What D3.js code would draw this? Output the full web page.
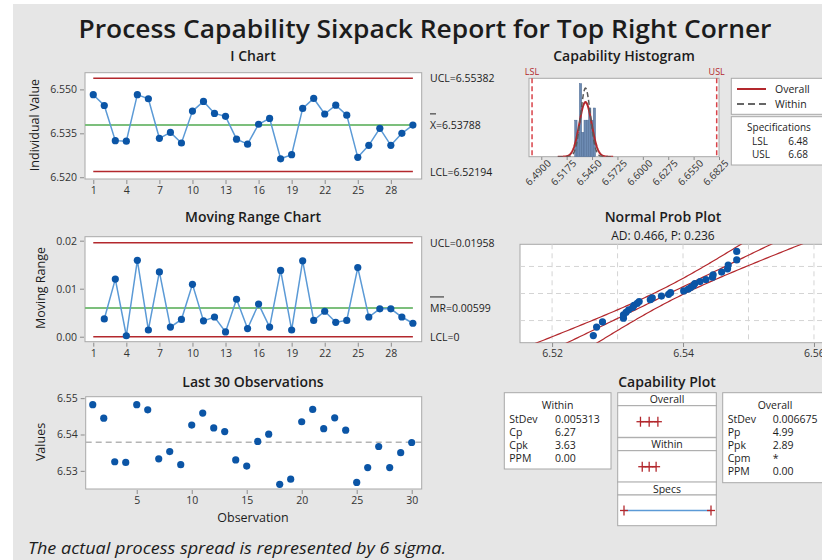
<!DOCTYPE html>
<html>
<head>
<meta charset="utf-8">
<script src="https://cdn.jsdelivr.net/npm/d3@7"></script>
<style>
body { margin: 0; background: #fff; }
text { font-family: "Open Sans", sans-serif; fill: #1c1c1c; }
.axis path.domain { display: none; }
.axis line { stroke: #8c8c8c; }
.axis text { font-size: 10.5px; fill: #333; }
</style>
</head>
<body>
<script>
var width = 822,
    height = 560;

// data
var values = [6.5482, 6.5445, 6.5325, 6.5323, 6.5482, 6.5468, 6.5333, 6.5353, 6.5317, 6.5426,
              6.5459, 6.5418, 6.5408, 6.5330, 6.5313, 6.5381, 6.5401, 6.5263, 6.5277, 6.5435,
              6.5469, 6.5416, 6.5446, 6.5412, 6.5268, 6.5309, 6.5367, 6.5309, 6.5350, 6.5378];
var iLimits = [6.55382, 6.53788, 6.52194];   // UCL, mean, LCL
var mrLimits = [0.01958, 0.00599, 0];
var iTicks = [6.520, 6.535, 6.550];
var mrTicks = [0, 0.01, 0.02];
var obsTicks = [1, 4, 7, 10, 13, 16, 19, 22, 25, 28];
var lastTicks = [5, 10, 15, 20, 25, 30];
var lastYTicks = [6.53, 6.54, 6.55];
var histStart = 6.52625, histWidth = 0.0025;
var histCounts = [3, 2, 6, 2, 3, 3, 4, 3, 4];
var histTicks = [6.4900, 6.5175, 6.5450, 6.5725, 6.6000, 6.6275, 6.6550, 6.6825];
var specs = [6.48, 6.68];
var sdWithin = 0.005313, sdOverall = 0.006675;
var probGrid = [0.1, 0.5, 0.9];
var npTicks = [6.52, 6.54, 6.56];
var npGrid = [6.52, 6.53, 6.54, 6.55, 6.56];
var withinStats = [["StDev", "0.005313"], ["Cp", "6.27"], ["Cpk", "3.63"], ["PPM", "0.00"]];
var overallStats = [["StDev", "0.006675"], ["Pp", "4.99"], ["Ppk", "2.89"], ["Cpm", "*"], ["PPM", "0.00"]];

var BLUE = "#0b55a6", LINEBLUE = "#5b9ad6", RED = "#b3282d", GREEN = "#7cbf7c";
var n = values.length;
var obs = d3.range(1, n + 1);
var mr = values.map(function(v, i) { return i == 0 ? null : Math.abs(v - values[i-1]); });

var svg = d3.select("body").append("svg")
    .attr("width", width)
    .attr("height", height);

svg.append("rect").attr("x", 13).attr("y", 4).attr("width", width - 13).attr("height", height - 4)
    .attr("fill", "#e6e6e6");

function txt(x, y, s, size, anchor, weight) {
    return svg.append("text").attr("x", x).attr("y", y).text(s)
        .style("font-size", size + "px")
        .attr("text-anchor", anchor || "start")
        .style("font-weight", weight || 400);
}

function frame(x, y, w, h) {
    svg.append("rect").attr("x", x).attr("y", y).attr("width", w).attr("height", h)
        .attr("fill", "#fff").attr("stroke", "#a8a8a8");
}

function clip(id, x, y, w, h) {
    svg.append("clipPath").attr("id", id).append("rect")
        .attr("x", x).attr("y", y).attr("width", w).attr("height", h);
    return "url(#" + id + ")";
}

// titles
txt(425, 38, "Process Capability Sixpack Report for Top Right Corner", 26, "middle", 600)
    .attr("textLength", 693).attr("lengthAdjust", "spacingAndGlyphs");
txt(253, 61, "I Chart", 14, "middle", 600);
txt(624, 61, "Capability Histogram", 14, "middle", 600);
txt(253, 222, "Moving Range Chart", 14, "middle", 600);
txt(663, 222, "Normal Prob Plot", 14, "middle", 600);
txt(663, 240, "AD: 0.466, P: 0.236", 12, "middle", 400);
txt(253, 387, "Last 30 Observations", 14, "middle", 600);
txt(667, 387, "Capability Plot", 14, "middle", 600);

function yTitle(x, y, s) {
    svg.append("text").attr("transform", "translate(" + x + "," + y + ") rotate(-90)")
        .attr("text-anchor", "middle").style("font-size", "12.5px").text(s);
}
yTitle(39, 125, "Individual Value");
yTitle(45, 288, "Moving Range");
yTitle(45, 442, "Values");
txt(253, 522, "Observation", 12.5, "middle", 400);

txt(28, 554, "The actual process spread is represented by 6 sigma.", 16.5, "start", 400)
    .style("font-style", "italic")
    .attr("textLength", 418).attr("lengthAdjust", "spacingAndGlyphs");

// ---------- control charts ----------
function controlChart(opt) {
    var x = d3.scaleLinear().domain([0.25, 30.8]).range([85, 421.7]);
    var y = d3.scaleLinear().domain(opt.yDomain).range([opt.bottom, opt.top]);
    frame(85, opt.top, 336.7, opt.bottom - opt.top);

    svg.append("g").attr("class", "axis").attr("transform", "translate(84,0)")
        .call(d3.axisLeft(y).tickValues(opt.yTicks).tickSize(4).tickFormat(d3.format(opt.fmt)));
    svg.append("g").attr("class", "axis").attr("transform", "translate(0," + (opt.bottom + 1) + ")")
        .call(d3.axisBottom(x).tickValues(obsTicks).tickSize(4));

    var lim = opt.limits;
    [lim[0], lim[2]].forEach(function(v) {
        svg.append("line").attr("x1", x(1)).attr("x2", x(30)).attr("y1", y(v)).attr("y2", y(v))
            .attr("stroke", RED).attr("stroke-width", 1.5);
    });
    svg.append("line").attr("x1", x(0.25)).attr("x2", x(30)).attr("y1", y(lim[1])).attr("y2", y(lim[1]))
        .attr("stroke", GREEN).attr("stroke-width", 2);

    var pts = opt.data.map(function(v, i) { return {i: i + 1, v: v}; })
        .filter(function(d) { return d.v !== null; });
    svg.append("path").datum(pts)
        .attr("d", d3.line().x(function(d) { return x(d.i); }).y(function(d) { return y(d.v); }))
        .attr("fill", "none").attr("stroke", LINEBLUE).attr("stroke-width", 1.5);
    svg.selectAll(null).data(pts).enter().append("circle")
        .attr("cx", function(d) { return x(d.i); })
        .attr("cy", function(d) { return y(d.v); })
        .attr("r", 3.6).attr("fill", BLUE);

    txt(430, y(lim[0]) + 4, "UCL=" + opt.labels[0], 10.5);
    txt(430, y(lim[1]) + 4, opt.labels[1], 10.5);
    svg.append("line").attr("x1", 430).attr("x2", opt.barW).attr("y1", y(lim[1]) - 11).attr("y2", y(lim[1]) - 11)
        .attr("stroke", "#222").attr("stroke-width", 1);
    txt(430, y(lim[2]) + 4, "LCL=" + opt.labels[2], 10.5);
}

controlChart({
    top: 72.7, bottom: 179, yDomain: [6.5194, 6.5557], yTicks: iTicks, fmt: ".3f",
    limits: iLimits, data: values, labels: ["6.55382", "X=6.53788", "6.52194"], barW: 436
});
controlChart({
    top: 236.7, bottom: 341.7, yDomain: [-0.00104, 0.02083], yTicks: mrTicks, fmt: ".2f",
    limits: mrLimits, data: mr, labels: ["0.01958", "MR=0.00599", "0"], barW: 444
});

// ---------- last 30 observations ----------
(function() {
    var x = d3.scaleLinear().domain([0.36, 30.91]).range([85.7, 421.7]);
    var y = d3.scaleLinear().domain([6.525, 6.5504]).range([489, 396.7]);
    frame(85.7, 396.7, 336, 92.3);
    svg.append("g").attr("class", "axis").attr("transform", "translate(84.7,0)")
        .call(d3.axisLeft(y).tickValues(lastYTicks).tickSize(4).tickFormat(d3.format(".2f")));
    svg.append("g").attr("class", "axis").attr("transform", "translate(0,490)")
        .call(d3.axisBottom(x).tickValues(lastTicks).tickSize(4));
    svg.append("line").attr("x1", 85.7).attr("x2", 421.7).attr("y1", y(iLimits[1])).attr("y2", y(iLimits[1]))
        .attr("stroke", "#b4b4b4").attr("stroke-width", 1.5).attr("stroke-dasharray", "6,4");
    svg.selectAll(null).data(values).enter().append("circle")
        .attr("cx", function(d, i) { return x(obs[i]); })
        .attr("cy", function(d) { return y(d); })
        .attr("r", 3.6).attr("fill", BLUE);
})();

// ---------- capability histogram ----------
function pdf(x, m, s) {
    return Math.exp(-0.5 * Math.pow((x - m) / s, 2)) / (s * Math.sqrt(2 * Math.PI));
}
(function() {
    var x = d3.scaleLinear().domain([6.4767, 6.6825]).range([529, 719]);
    var y = d3.scaleLinear().domain([0, 6.44]).range([156.7, 78.3]);
    frame(529, 78.3, 190, 78.4);
    var cp = clip("histclip", 529, 78.3, 190, 78.4);

    svg.append("g").selectAll("rect").data(histCounts).enter().append("rect")
        .attr("x", function(d, i) { return x(histStart + i * histWidth); })
        .attr("width", function(d, i) { return x(histStart + (i + 1) * histWidth) - x(histStart + i * histWidth); })
        .attr("y", function(d) { return y(d); })
        .attr("height", function(d) { return y(0) - y(d); })
        .attr("fill", "#6d8bb3").attr("stroke", "#4d6a92").attr("stroke-width", 0.5);

    var m = iLimits[1];
    var xs = d3.range(m - 0.03, m + 0.03, 0.0004);
    var line = function(s) {
        return d3.line().x(function(d) { return x(d); })
            .y(function(d) { return y(pdf(d, m, s) * n * histWidth); });
    };
    svg.append("path").datum(xs).attr("d", line(sdOverall)).attr("clip-path", cp)
        .attr("fill", "none").attr("stroke", RED).attr("stroke-width", 2);
    svg.append("path").datum(xs).attr("d", line(sdWithin)).attr("clip-path", cp)
        .attr("fill", "none").attr("stroke", "#5a5a5a").attr("stroke-width", 1.5).attr("stroke-dasharray", "5,3");

    specs.forEach(function(v, i) {
        svg.append("line").attr("x1", x(v)).attr("x2", x(v)).attr("y1", 78.3).attr("y2", 156.7)
            .attr("stroke", "#d9434a").attr("stroke-width", 1.5).attr("stroke-dasharray", "5,3");
        txt(x(v), 75, i == 0 ? "LSL" : "USL", 9, "middle").style("fill", RED);
    });

    var ax = svg.append("g").attr("class", "axis").attr("transform", "translate(0,157)")
        .call(d3.axisBottom(x).tickValues(histTicks).tickSize(3).tickFormat(d3.format(".4f")));
    ax.selectAll("text").attr("text-anchor", "end").attr("dx", "0.2em").attr("dy", "0.6em")
        .attr("transform", "rotate(-45)").style("font-size", "10px");
})();

// legend + specs
frame(731.3, 78.3, 100, 36);
svg.append("line").attr("x1", 737).attr("x2", 766).attr("y1", 89).attr("y2", 89)
    .attr("stroke", RED).attr("stroke-width", 2);
svg.append("line").attr("x1", 737).attr("x2", 766).attr("y1", 104).attr("y2", 104)
    .attr("stroke", "#666").attr("stroke-width", 1.8).attr("stroke-dasharray", "7,4");
txt(775, 93, "Overall", 10.5);
txt(775, 108, "Within", 10.5);
frame(731.3, 116.7, 100, 48.3);
txt(779, 131, "Specifications", 10, "middle");
txt(752, 145, "LSL", 10);
txt(808, 145, d3.format(".2f")(specs[0]), 10, "end");
txt(752, 158, "USL", 10);
txt(808, 158, d3.format(".2f")(specs[1]), 10, "end");

// ---------- normal probability plot ----------
function probit(p) {
    var a = [-39.69683028665376, 220.9460984245205, -275.9285104469687, 138.3577518672690, -30.66479806614716, 2.506628277459239];
    var b = [-54.47609879822406, 161.5858368580409, -155.6989798598866, 66.80131188771972, -13.28068155288572];
    var c = [-7.784894002430293e-03, -0.3223964580411365, -2.400758277161838, -2.549732539343734, 4.374664141464968, 2.938163982698783];
    var d = [7.784695709041462e-03, 0.3224671290700398, 2.445134137142996, 3.754408661907416];
    var q, r;
    if (p < 0.02425) {
        q = Math.sqrt(-2 * Math.log(p));
        return (((((c[0]*q+c[1])*q+c[2])*q+c[3])*q+c[4])*q+c[5]) / ((((d[0]*q+d[1])*q+d[2])*q+d[3])*q+1);
    }
    if (p > 1 - 0.02425) return -probit(1 - p);
    q = p - 0.5; r = q * q;
    return (((((a[0]*r+a[1])*r+a[2])*r+a[3])*r+a[4])*r+a[5])*q / (((((b[0]*r+b[1])*r+b[2])*r+b[3])*r+b[4])*r+1);
}
(function() {
    var x = d3.scaleLinear().domain([6.5151, 6.5626]).range([520, 831]);
    var y = d3.scaleLinear().domain([-2.33, 2.33]).range([342.7, 244.3]);
    frame(520, 244.3, 311, 98.4);
    var cp = clip("npclip", 520, 244.3, 311, 98.4);

    svg.append("g").selectAll("line").data(npGrid).enter().append("line")
        .attr("x1", function(d) { return x(d); }).attr("x2", function(d) { return x(d); })
        .attr("y1", 244.3).attr("y2", 342.7)
        .attr("stroke", "#d4d4d4").attr("stroke-dasharray", "5,4");
    svg.append("g").selectAll("line").data(probGrid).enter().append("line")
        .attr("x1", 520).attr("x2", 831)
        .attr("y1", function(d) { return y(probit(d)); }).attr("y2", function(d) { return y(probit(d)); })
        .attr("stroke", "#d4d4d4").attr("stroke-dasharray", "5,4");

    svg.append("g").attr("class", "axis").attr("transform", "translate(0,343)")
        .call(d3.axisBottom(x).tickValues(npTicks).tickSize(4).tickFormat(d3.format(".2f")));

    var m = iLimits[1], s = sdOverall;
    var zs = d3.range(-2.6, 2.61, 0.05);
    [-1, 0, 1].forEach(function(k) {
        svg.append("path").datum(zs).attr("clip-path", cp)
            .attr("d", d3.line()
                .x(function(z) { return x(m + z * s + k * 1.96 * s * Math.sqrt(1 / n + z * z / (2 * n))); })
                .y(function(z) { return y(z); }))
            .attr("fill", "none").attr("stroke", RED).attr("stroke-width", 1.2);
    });

    var sorted = values.slice().sort(d3.ascending);
    svg.selectAll(null).data(sorted).enter().append("circle")
        .attr("cx", function(d) { return x(d); })
        .attr("cy", function(d, i) { return y(probit((i + 1 - 0.3) / (n + 0.4))); })
        .attr("r", 3.6).attr("fill", BLUE);
})();

// ---------- capability plot ----------
function statTable(x, y, w, h, title, rows, vx, tx) {
    frame(x, y, w, h);
    txt(tx, y + 16, title, 10.5, "middle");
    rows.forEach(function(r, i) {
        txt(x + 5, y + 30 + i * 13, r[0], 10.5);
        txt(vx, y + 30 + i * 13, r[1], 10.5);
    });
}
statTable(504.3, 392.7, 106.7, 76.3, "Within", withinStats, 555, 557.6);
statTable(722.7, 392.7, 110, 90, "Overall", overallStats, 772.7, 775);

(function() {
    var x = d3.scaleLinear().domain(specs).range([624, 711]);
    var boxes = [
        {title: "Overall", top: 392.7, s: sdOverall},
        {title: "Within", top: 437.7, s: sdWithin},
        {title: "Specs", top: 482, s: null}
    ];
    boxes.forEach(function(b) {
        frame(617.7, b.top, 98.6, 13);
        txt(667, b.top + 10.5, b.title, 10.5, "middle");
        var h = b.s ? 31.6 : 30.7;
        frame(617.7, b.top + 13, 98.6, h);
        var cy = b.top + 13 + (b.s ? 16 : 15.5);
        var pts = b.s ? [iLimits[1] - 3 * b.s, iLimits[1], iLimits[1] + 3 * b.s] : specs;
        svg.append("line").attr("x1", x(pts[0])).attr("x2", x(pts[pts.length - 1]))
            .attr("y1", cy).attr("y2", cy)
            .attr("stroke", b.s ? RED : LINEBLUE).attr("stroke-width", 1.5);
        pts.forEach(function(p) {
            svg.append("line").attr("x1", x(p)).attr("x2", x(p)).attr("y1", cy - 5).attr("y2", cy + 5)
                .attr("stroke", RED).attr("stroke-width", 1.3);
            svg.append("line").attr("x1", x(p) - 4).attr("x2", x(p) + 4).attr("y1", cy).attr("y2", cy)
                .attr("stroke", RED).attr("stroke-width", 1.3);
        });
    });
})();
</script>
</body>
</html>
